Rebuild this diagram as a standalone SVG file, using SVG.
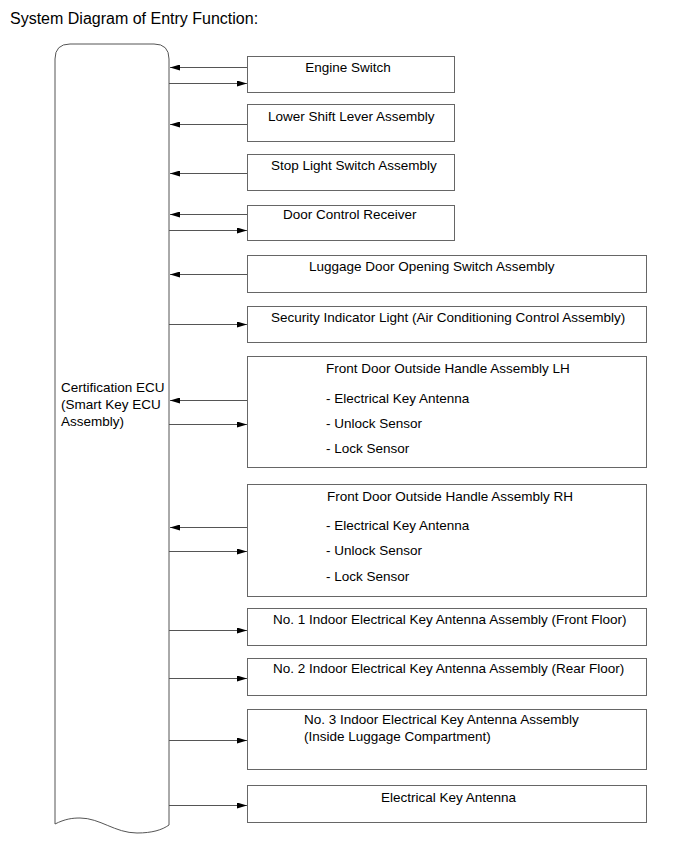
<svg xmlns="http://www.w3.org/2000/svg" width="691" height="855" viewBox="0 0 691 855">
<style>
text{font-family:"Liberation Sans",Arial,sans-serif;font-size:13.5px;fill:#000}
.box{fill:#fff;stroke:#666;stroke-width:1}
.ln{stroke:#555;stroke-width:1;fill:none}
.title{font-size:16px}
</style>
<defs>
<marker id="ah" viewBox="0 0 10 6" refX="10" refY="3" markerWidth="10" markerHeight="6" markerUnits="userSpaceOnUse" orient="auto">
<path d="M0,0 L10,3 L0,6 Z" fill="#000"/>
</marker>
</defs>
<rect width="691" height="855" fill="#fff"/>
<text class="title" x="10" y="24">System Diagram of Entry Function:</text>
<g id="ecu">
<path class="ln" d="M55,824 L55,59 Q55,44 70,44 L154,44 Q169,44 169,59 L169,825 C162,830 152,833 137,833 C115,833 100,818 80,818 C72,818 65,819 55,824 Z" fill="#fff"/>
<text x="61" y="392">Certification ECU</text>
<text x="61" y="409">(Smart Key ECU</text>
<text x="61" y="426">Assembly)</text>
</g>
<g id="engine-switch"><rect class="box" x="247.5" y="56.5" width="207" height="36"/><text x="348" y="72" text-anchor="middle">Engine Switch</text></g>
<g id="lower-shift"><rect class="box" x="247.5" y="104.5" width="207" height="37"/><text x="268" y="121">Lower Shift Lever Assembly</text></g>
<g id="stop-light"><rect class="box" x="247.5" y="154.5" width="207" height="36"/><text x="271" y="170">Stop Light Switch Assembly</text></g>
<g id="door-control"><rect class="box" x="247.5" y="205.5" width="207" height="35"/><text x="283" y="219">Door Control Receiver</text></g>
<g id="luggage-switch"><rect class="box" x="247.5" y="255.5" width="399" height="37"/><text x="309" y="271">Luggage Door Opening Switch Assembly</text></g>
<g id="security-light"><rect class="box" x="247.5" y="306.5" width="399" height="36"/><text x="271" y="322">Security Indicator Light (Air Conditioning Control Assembly)</text></g>
<g id="front-lh"><rect class="box" x="247.5" y="356.5" width="399" height="111"/>
<text x="326" y="373">Front Door Outside Handle Assembly LH</text>
<text x="326" y="403">- Electrical Key Antenna</text>
<text x="326" y="428">- Unlock Sensor</text>
<text x="326" y="453">- Lock Sensor</text></g>
<g id="front-rh"><rect class="box" x="247.5" y="484.5" width="399" height="112"/>
<text x="327" y="501">Front Door Outside Handle Assembly RH</text>
<text x="326" y="530">- Electrical Key Antenna</text>
<text x="326" y="555">- Unlock Sensor</text>
<text x="326" y="581">- Lock Sensor</text></g>
<g id="antenna-1"><rect class="box" x="247.5" y="608.5" width="399" height="37"/><text x="273" y="624">No. 1 Indoor Electrical Key Antenna Assembly (Front Floor)</text></g>
<g id="antenna-2"><rect class="box" x="247.5" y="658.5" width="399" height="37"/><text x="273" y="673">No. 2 Indoor Electrical Key Antenna Assembly (Rear Floor)</text></g>
<g id="antenna-3"><rect class="box" x="247.5" y="709.5" width="399" height="60"/><text x="304" y="724">No. 3 Indoor Electrical Key Antenna Assembly</text><text x="304" y="741">(Inside Luggage Compartment)</text></g>
<g id="key-antenna"><rect class="box" x="247.5" y="785.5" width="399" height="37"/><text x="381" y="802">Electrical Key Antenna</text></g>
<g id="connectors" class="ln">
<line x1="247" y1="67.5" x2="170" y2="67.5" marker-end="url(#ah)"/>
<line x1="169" y1="83.5" x2="247" y2="83.5" marker-end="url(#ah)"/>
<line x1="247" y1="124.5" x2="170" y2="124.5" marker-end="url(#ah)"/>
<line x1="247" y1="173.5" x2="170" y2="173.5" marker-end="url(#ah)"/>
<line x1="247" y1="214.5" x2="170" y2="214.5" marker-end="url(#ah)"/>
<line x1="169" y1="230.5" x2="247" y2="230.5" marker-end="url(#ah)"/>
<line x1="247" y1="274.5" x2="170" y2="274.5" marker-end="url(#ah)"/>
<line x1="169" y1="324.5" x2="247" y2="324.5" marker-end="url(#ah)"/>
<line x1="247" y1="400.5" x2="170" y2="400.5" marker-end="url(#ah)"/>
<line x1="169" y1="424.5" x2="247" y2="424.5" marker-end="url(#ah)"/>
<line x1="247" y1="527.5" x2="170" y2="527.5" marker-end="url(#ah)"/>
<line x1="169" y1="551.5" x2="247" y2="551.5" marker-end="url(#ah)"/>
<line x1="169" y1="630.5" x2="247" y2="630.5" marker-end="url(#ah)"/>
<line x1="169" y1="678.5" x2="247" y2="678.5" marker-end="url(#ah)"/>
<line x1="169" y1="740.5" x2="247" y2="740.5" marker-end="url(#ah)"/>
<line x1="169" y1="805.5" x2="247" y2="805.5" marker-end="url(#ah)"/>
</g>
</svg>
